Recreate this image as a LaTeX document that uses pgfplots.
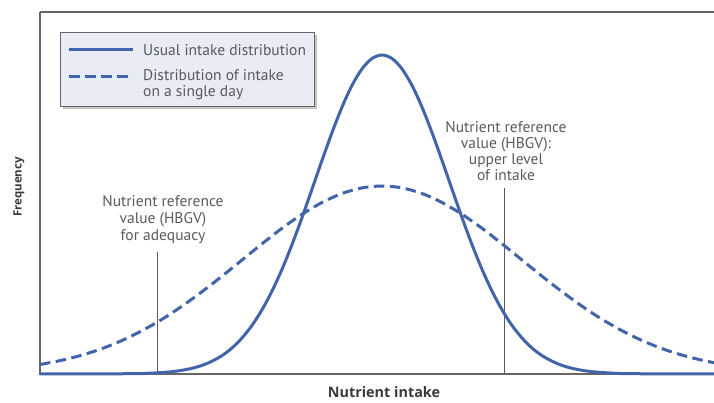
\documentclass[border=0pt]{standalone}
\usepackage{fontspec}
\setmainfont{PT Sans}
\newfontfamily\titlefont{Open Sans}
\usepackage{pgfplots}
\pgfplotsset{compat=1.18}
\usetikzlibrary{shadows}
\definecolor{curve}{HTML}{4264AB}
\definecolor{txt}{HTML}{5A5A5A}
\definecolor{ttl}{HTML}{3A3A3A}
\definecolor{legfill}{HTML}{E9EBF5}
\definecolor{frame}{HTML}{666666}
\begin{document}
\begin{tikzpicture}
\begin{axis}[name=ax, scale only axis, width=674pt, height=362pt,
  xmin=40, xmax=714, ymin=0, ymax=362,
  axis line style={draw=none}, xtick=\empty, ytick=\empty, clip=false]
% frame
\draw[frame, line width=1.5pt] (axis cs:40,362) -- (axis cs:40,0) -- (axis cs:714,0);
\draw[frame, line width=1.5pt] (axis cs:40,362) -- (axis cs:714,362);
% reference lines
\addplot[txt, line width=1pt] coordinates {(157,0) (157,122)};
\addplot[txt, line width=1pt] coordinates {(504,0) (504,186)};
% distribution of intake on a single day
\addplot[curve, line width=3pt, dash pattern=on 10.5pt off 5.5pt, smooth] coordinates {
(40,9.5) (62,13.8) (82,18.9) (102,25.4) (122,33.5) (142,43.3) (162,54.7) (182,67.8)
(202,82.3) (222,97.8) (242,114.0) (262,130.2) (282,145.7) (302,159.7) (322,171.5)
(342,180.5) (362,186.1) (382,188) (402,186.1) (422,180.5) (442,171.5) (462,159.7)
(482,145.7) (502,130.2) (522,114.0) (542,97.8) (562,82.3) (582,67.8) (602,54.7)
(622,43.3) (642,33.5) (662,25.4) (682,18.9) (702,13.8) (714,11.3)};
% usual intake distribution
\addplot[curve, line width=3pt, smooth] coordinates {
(40,0) (132,0.3) (152,0.9) (162,1.5) (172,2.3) (182,3.7) (192,5.7) (202,8.6) (212,12.8)
(222,18.4) (232,26.0) (242,36.0) (252,48.6) (262,64.2) (272,82.9) (282,104.7) (292,129.4)
(302,156.4) (312,184.8) (322,213.6) (332,241.4) (342,266.9) (352,288.6) (362,305.1)
(372,315.5) (382,319) (392,315.5) (402,305.1) (412,288.6) (422,266.9) (432,241.4)
(442,213.6) (452,184.8) (462,156.4) (472,129.4) (482,104.7) (492,82.9) (502,64.2)
(512,48.6) (522,36.0) (532,26.0) (542,18.4) (552,12.8) (562,8.6) (572,5.7) (582,3.7)
(592,2.3) (602,1.5) (612,0.9) (632,0.3) (714,0)};
% annotations
\node[txt, align=center, font=\fontsize{15.5}{17}\selectfont, anchor=center]
  at (axis cs:163,154) {Nutrient reference\\value (HBGV)\\for adequacy};
\node[txt, align=center, font=\fontsize{15.5}{16}\selectfont, anchor=center]
  at (axis cs:506,223) {Nutrient reference\\value (HBGV):\\upper level\\of intake};
% legend
\draw[draw=frame, line width=1pt, fill=legfill, drop shadow={shadow xshift=2.5pt, shadow yshift=-2.5pt, fill=black!45}]
  (axis cs:61,341) rectangle (axis cs:314,267);
\draw[curve, line width=3pt] (axis cs:69,324) -- (axis cs:133,324);
\draw[curve, line width=3pt, dash pattern=on 10.5pt off 5.5pt] (axis cs:69,297) -- (axis cs:133,297);
\node[txt, anchor=west, inner sep=0pt, font=\fontsize{15.5}{16}\selectfont] at (axis cs:143,324) {Usual intake distribution};
\node[txt, anchor=north west, inner sep=0pt, align=left, font=\fontsize{15.5}{16}\selectfont] at (axis cs:143,305) {Distribution of intake\\on a single day};
% axis titles
\node[ttl, font=\titlefont\bfseries\fontsize{14.4}{16}\selectfont] at (axis cs:384,-18) {Nutrient intake};
\node[ttl, rotate=90, font=\titlefont\bfseries\fontsize{11.5}{14}\selectfont] at (axis cs:19,187) {Frequency};
\end{axis}
\pgfresetboundingbox
\useasboundingbox ([shift={(-40pt,-29pt)}]ax.south west) rectangle ([shift={(0pt,12pt)}]ax.north east);
\end{tikzpicture}
\end{document}
